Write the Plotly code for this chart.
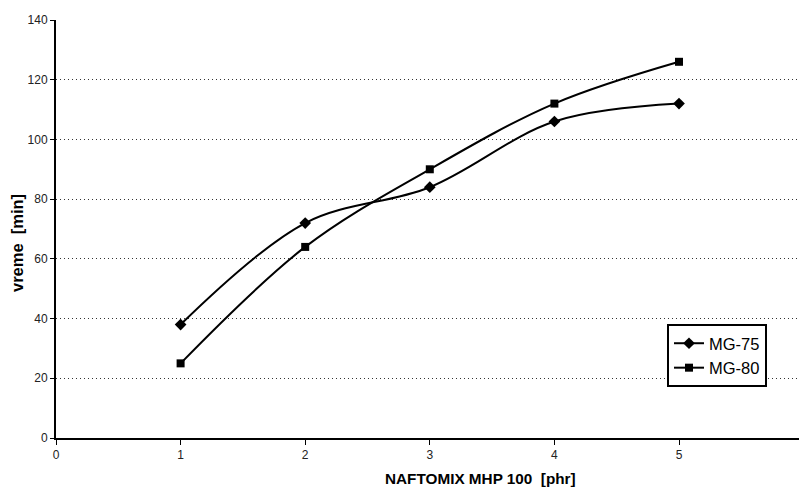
import plotly.graph_objects as go

x_vals = [1, 2, 3, 4, 5]
mg75 = [38, 72, 84, 106, 112]
mg80 = [25, 64, 90, 112, 126]
series_names = ["MG-75", "MG-80"]
x_title = "NAFTOMIX MHP 100&nbsp;&nbsp;[phr]"
y_title = "vreme&nbsp;&nbsp;[min]"

W, H = 799, 490
L, R, T, B = 56, 0, 20, 52
PW, PH = W - L - R, H - T - B

fig = go.Figure()
fig.add_trace(go.Scatter(x=x_vals, y=mg75, name=series_names[0], mode="lines+markers",
                         line=dict(color="black", width=2, shape="spline", smoothing=1),
                         marker=dict(symbol="diamond", size=9, color="black")))
fig.add_trace(go.Scatter(x=x_vals, y=mg80, name=series_names[1], mode="lines+markers",
                         line=dict(color="black", width=2, shape="spline", smoothing=1),
                         marker=dict(symbol="square", size=8, color="black")))

fig.update_layout(
    width=W, height=H,
    margin=dict(l=L, r=R, t=T, b=B),
    paper_bgcolor="white", plot_bgcolor="white",
    font=dict(family="Liberation Sans, Arial", color="black", size=12),
    showlegend=True,
    legend=dict(x=(667 - L) / PW, y=(438 - 324) / PH, xanchor="left", yanchor="top",
                bordercolor="black", borderwidth=2, bgcolor="white",
                font=dict(size=16.5, family="Liberation Sans, Arial"),
                tracegroupgap=0, itemwidth=30),
    xaxis=dict(range=[0, PW / 124.6], tickvals=[0, 1, 2, 3, 4, 5], showgrid=False,
               showline=True, linecolor="black", linewidth=2, zeroline=False,
               ticks="outside", ticklen=5, tickcolor="black", tickwidth=1,
               tickfont=dict(size=12, color="#222")),
    yaxis=dict(range=[0, 140], dtick=20, showgrid=True, gridcolor="#333", griddash="1px,3px",
               gridwidth=1, showline=True, linecolor="black", linewidth=2, zeroline=False,
               ticks="outside", ticklen=4, tickcolor="black", tickwidth=1,
               tickfont=dict(size=12, color="#222")),
    annotations=[
        dict(text="<b>" + x_title + "</b>", xref="paper", yref="paper",
             x=(480 - L) / PW, y=-(478 - 438) / PH, xanchor="center", yanchor="middle",
             showarrow=False, font=dict(size=15.3, family="Liberation Sans, Arial")),
        dict(text="<b>" + y_title + "</b>", xref="paper", yref="paper", textangle=-90,
             x=-(L - 17) / PW, y=(438 - 243) / PH, xanchor="center", yanchor="middle",
             showarrow=False, font=dict(size=16.5, family="Liberation Sans, Arial")),
    ],
)
fig.write_html("out.html")
